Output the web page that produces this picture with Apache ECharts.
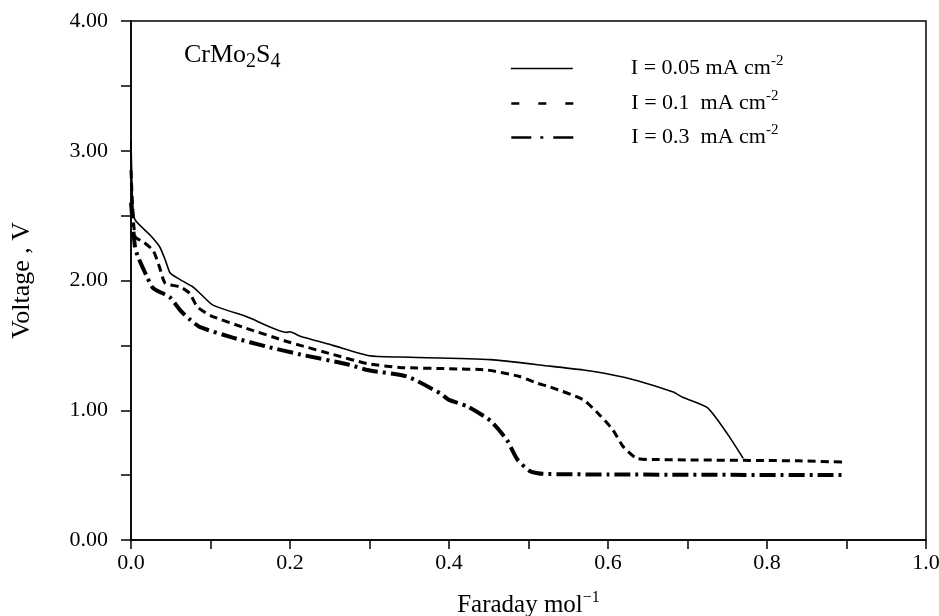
<!DOCTYPE html>
<html><head><meta charset="utf-8">
<script src="https://cdn.jsdelivr.net/npm/echarts@6/dist/echarts.min.js"></script>
<style>html,body{margin:0;padding:0;background:#fff}#c{width:939px;height:616px}</style>
</head><body><div id="c"></div>
<script>
var seriesNames = ['I = 0.05 mA cm-2', 'I = 0.1  mA cm-2', 'I = 0.3  mA cm-2'];
var curve005 = [[0,3.08],[0.002,2.6],[0.005,2.47],[0.024,2.35],[0.036,2.26],[0.043,2.16],[0.049,2.06],[0.058,2.02],[0.078,1.95],[0.087,1.90],[0.103,1.81],[0.146,1.72],[0.196,1.60],[0.2,1.605],[0.213,1.57],[0.254,1.50],[0.30,1.42],[0.338,1.41],[0.452,1.39],[0.527,1.34],[0.569,1.31],[0.60,1.28],[0.636,1.23],[0.682,1.14],[0.694,1.10],[0.725,1.02],[0.75,0.82],[0.77,0.63]];
var curve01 = [[0,2.85],[0.005,2.34],[0.015,2.30],[0.028,2.23],[0.036,2.10],[0.043,1.98],[0.062,1.95],[0.074,1.90],[0.083,1.80],[0.10,1.73],[0.141,1.64],[0.196,1.53],[0.213,1.50],[0.254,1.43],[0.297,1.36],[0.338,1.33],[0.40,1.32],[0.448,1.31],[0.489,1.26],[0.51,1.21],[0.527,1.18],[0.569,1.08],[0.59,0.96],[0.606,0.85],[0.619,0.72],[0.636,0.63],[0.66,0.62],[0.84,0.61],[0.90,0.60]];
var curve03 = [[0,2.6],[0.005,2.26],[0.009,2.18],[0.02,2.03],[0.028,1.94],[0.049,1.87],[0.062,1.77],[0.074,1.70],[0.087,1.64],[0.128,1.56],[0.171,1.49],[0.213,1.43],[0.275,1.35],[0.297,1.31],[0.347,1.26],[0.389,1.13],[0.40,1.08],[0.423,1.03],[0.452,0.92],[0.473,0.77],[0.486,0.62],[0.502,0.53],[0.518,0.51],[0.60,0.505],[0.90,0.50]];
var xTicks = ['0.0','0.2','0.4','0.6','0.8','1.0'];
var yTicks = ['0.00','1.00','2.00','3.00','4.00'];

var FONT = '"Liberation Serif", "DejaVu Serif", serif';
var chart = echarts.init(document.getElementById('c'), null, {renderer:'canvas'});
function legendFmt(name){
  var base = name.replace(/cm-2$/, 'cm');
  return '{pad|}{t|' + base + '}{sup|-2}';
}
var legendTops = [54, 89, 123];
var legendLines = [
  {color:'#000', width:1.6, type:'solid'},
  {color:'#000', width:2.6, type:[8,19]},
  {color:'#000', width:2.6, type:[20,9,3,10]}
];
var legends = seriesNames.map(function(n, i){
  return {
    orient:'vertical', left:510, top:legendTops[i], padding:0, itemWidth:62, itemHeight:14, itemGap:0,
    data:[n], formatter:legendFmt, selectedMode:false,
    itemStyle:{opacity:0, color:'rgba(0,0,0,0)', borderColor:'rgba(0,0,0,0)', borderWidth:0},
    lineStyle:legendLines[i],
    textStyle:{fontFamily:FONT, color:'#000', fontSize:22,
      rich:{pad:{width:53}, t:{fontFamily:FONT,fontSize:22,color:'#000'}, sup:{fontFamily:FONT,fontSize:15,color:'#000',padding:[0,0,14,0]}}}
  };
});
var option = {
  animation:false,
  backgroundColor:'#fff',
  grid:{left:131, right:13, top:21, bottom:76, show:true, borderColor:'#000', borderWidth:1.5, outerBoundsMode:'none', containLabel:false},
  legend:legends,
  xAxis:{type:'value', min:0, max:1, interval:0.1,
    name:'{n|Faraday mol}{s|\u22121}', nameLocation:'middle', nameGap:50,
    nameTextStyle:{fontFamily:FONT, fontSize:25, color:'#000',
      rich:{n:{fontFamily:FONT,fontSize:25,color:'#000'}, s:{fontFamily:FONT,fontSize:16,color:'#000',padding:[0,0,14,0]}}},
    axisLine:{lineStyle:{color:'#000', width:1.5}},
    axisTick:{inside:false, length:9, lineStyle:{color:'#000', width:1.5}},
    axisLabel:{fontFamily:FONT, fontSize:22, color:'#000', margin:12,
      formatter:function(v){var s=v.toFixed(1); return xTicks.indexOf(s)>=0 && Math.round(v*10)%2===0 ? s : '';}},
    splitLine:{show:false}},
  yAxis:{type:'value', min:0, max:4, interval:0.5,
    name:'Voltage , V', nameLocation:'middle', nameGap:96,
    nameTextStyle:{fontFamily:FONT, fontSize:26, color:'#000'},
    axisLine:{lineStyle:{color:'#000', width:1.5}},
    axisTick:{inside:false, length:10, lineStyle:{color:'#000', width:1.5}},
    axisLabel:{fontFamily:FONT, fontSize:22, color:'#000', margin:23,
      formatter:function(v){var s=v.toFixed(2); return yTicks.indexOf(s)>=0 ? s : '';}},
    splitLine:{show:false}},
  graphic:[{type:'text', left:184, top:42, style:{
    text:'{m|CrMo}{s|2}{m|S}{s|4}',
    rich:{m:{fontFamily:FONT,fontSize:26,fill:'#000'}, s:{fontFamily:FONT,fontSize:20,fill:'#000',padding:[14,0,0,0]}}}}],
  series:[
    {name:seriesNames[0], type:'line', data:curve005, symbol:'none', smooth:0.2,
     lineStyle:{color:'#000', width:1.6, type:'solid'}, itemStyle:{color:'#000'}},
    {name:seriesNames[1], type:'line', data:curve01, symbol:'none', smooth:0.2,
     lineStyle:{color:'#000', width:3, type:[8,5]}, itemStyle:{color:'#000'}},
    {name:seriesNames[2], type:'line', data:curve03, symbol:'none', smooth:0.2,
     lineStyle:{color:'#000', width:4, type:[16,5,3,5]}, itemStyle:{color:'#000'}}
  ]
};
chart.setOption(option);
</script></body></html>
